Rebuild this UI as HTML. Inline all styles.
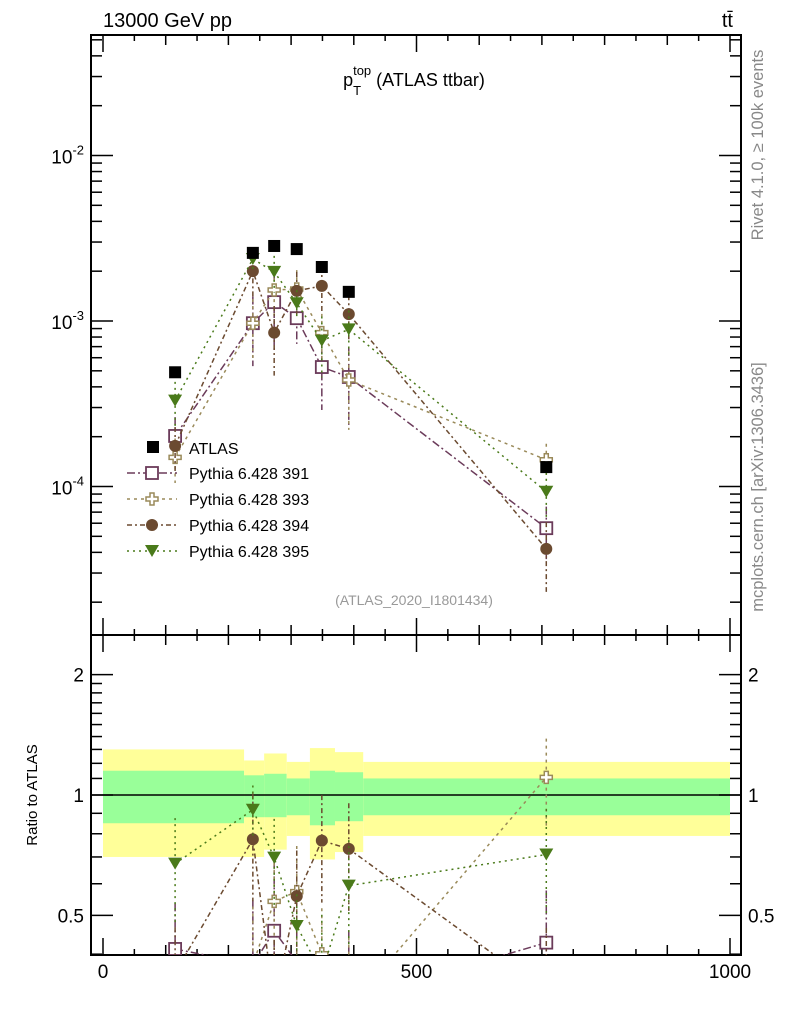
<!DOCTYPE html>
<html><head><meta charset="utf-8"><style>
html,body{margin:0;background:#fff;overflow:hidden;width:786px;height:1024px;}
svg{display:block;font-family:"Liberation Sans",sans-serif;}
</style></head><body>
<svg id="c" width="786" height="1024" viewBox="0 0 786 1024">
<text x="103" y="27" font-size="20">13000 GeV pp</text>
<text x="733" y="27" font-size="20" text-anchor="end">tt̄</text>
<text x="414" y="86" font-size="18" text-anchor="middle"><tspan>p</tspan><tspan dy="9" font-size="13">T</tspan><tspan dx="-8" dy="-20" font-size="13">top</tspan><tspan dy="11"> (ATLAS ttbar)</tspan></text>
<text transform="translate(763,145) rotate(-90)" font-size="16.5" fill="#888" text-anchor="middle">Rivet 4.1.0, ≥ 100k events</text>
<text transform="translate(763,487) rotate(-90)" font-size="16.5" fill="#888" text-anchor="middle">mcplots.cern.ch [arXiv:1306.3436]</text>
<text x="414" y="605" font-size="14" fill="#999" text-anchor="middle">(ATLAS_2020_I1801434)</text>
<text transform="translate(37,795) rotate(-90)" font-size="15" text-anchor="middle">Ratio to ATLAS</text>
<g id="bands"></g><g id="axes"></g><g id="marks"></g><g id="legend"></g>
</svg>
<script>
const binEdges=[0,225,257,293,330,370,415,1000];
const xCenters=[115,239,273,309,349,392,707];
const atlas=[0.49e-3,2.58e-3,2.84e-3,2.72e-3,2.12e-3,1.50e-3,1.31e-4];
const bandYellowUp=[1.30,1.22,1.27,1.21,1.31,1.28,1.21];
const bandYellowDn=[0.70,0.70,0.73,0.79,0.69,0.72,0.79];
const bandGreenUp=[1.15,1.12,1.13,1.10,1.15,1.14,1.10];
const bandGreenDn=[0.85,0.88,0.88,0.89,0.84,0.86,0.89];
const s391=[0.202e-3,0.97e-3,1.30e-3,1.04e-3,0.527e-3,0.459e-3,0.056e-3];
const s393=[0.15e-3,0.97e-3,1.54e-3,1.56e-3,0.85e-3,0.44e-3,0.145e-3];
const s394=[0.176e-3,2.0e-3,0.85e-3,1.52e-3,1.63e-3,1.10e-3,0.042e-3];
const s395=[0.33e-3,2.37e-3,1.98e-3,1.28e-3,0.76e-3,0.89e-3,0.093e-3];
const relErr391=[0.3,0.45,0.5,0.3,0.45,0.5,0.35];
const relErr393=[0.3,0.4,0.3,0.3,0.3,0.5,0.25];
const relErr394=[0.3,0.3,0.45,0.3,0.3,0.3,0.45];
const relErr395=[0.3,0.15,0.25,0.2,0.4,0.3,0.3];
const seriesNames=["Pythia 6.428 391","Pythia 6.428 393","Pythia 6.428 394","Pythia 6.428 395"];

const NS="http://www.w3.org/2000/svg";
const X0=91,X1=741,Y0=35,YM=635,Y1=955;
const xs=v=>103+v*0.627;
const ys=v=>321-165.5*Math.log10(v/1e-3);
const yr=r=>795-400*Math.log10(r);
function el(p,t,a){const e=document.createElementNS(NS,t);for(const k in a)e.setAttribute(k,a[k]);p.appendChild(e);return e;}
const bands=document.getElementById('bands'),axes=document.getElementById('axes'),marks=document.getElementById('marks'),leg=document.getElementById('legend');
const clip=el(document.querySelector('svg'),'clipPath',{id:'rc'});el(clip,'rect',{x:X0,y:YM,width:X1-X0,height:Y1-YM});
const clipM=el(document.querySelector('svg'),'clipPath',{id:'mc'});el(clipM,'rect',{x:X0,y:Y0,width:X1-X0,height:YM-Y0});

for(let i=0;i<xCenters.length;i++){
  const x=xs(binEdges[i]),w=xs(binEdges[i+1])-x;
  let r=el(bands,'rect',{x:x,y:yr(bandYellowUp[i]),width:w,height:yr(bandYellowDn[i])-yr(bandYellowUp[i]),fill:'#ffff99'});
  
  r=el(bands,'rect',{x:x,y:yr(bandGreenUp[i]),width:w,height:yr(bandGreenDn[i])-yr(bandGreenUp[i]),fill:'#99ff99'});
  
}
el(axes,'line',{x1:X0,x2:X1,y1:yr(1),y2:yr(1),stroke:'#000','stroke-width':1.5});
let f=el(axes,'rect',{x:X0,y:Y0,width:X1-X0,height:YM-Y0,fill:'none',stroke:'#000','stroke-width':2});

f=el(axes,'rect',{x:X0,y:YM,width:X1-X0,height:Y1-YM,fill:'none',stroke:'#000','stroke-width':2});

for(let v=0;v<=1000;v+=50){
  const L=v%500==0?17:(v%100==0?10:6),x=xs(v);
  for(const [ya,d] of [[Y0,1],[YM,-1],[YM,1],[Y1,-1]]) el(axes,'line',{x1:x,x2:x,y1:ya,y2:ya+d*L,stroke:'#000','stroke-width':1.5});
  if(v%500==0){const t=el(axes,'text',{x:x,y:978,'font-size':19,'text-anchor':'middle'});t.textContent=v;
    }
}
for(let e=-5;e<=-1;e++)for(let m=1;m<10;m++){
  const v=m*Math.pow(10,e),y=ys(v);if(y<Y0||y>YM)continue;
  const L=m==1?22:11;
  el(axes,'line',{x1:X0,x2:X0+L,y1:y,y2:y,stroke:'#000','stroke-width':1.5});
  el(axes,'line',{x1:X1,x2:X1-L,y1:y,y2:y,stroke:'#000','stroke-width':1.5});
  if(m==1){const t=el(axes,'text',{x:84,y:y+8,'font-size':19,'text-anchor':'end'});
    t.innerHTML='10<tspan dy="-9" font-size="13">'+e+'</tspan>';
    }
}
const rt=[0.4,0.5,0.6,0.7,0.8,0.9,1,2];
for(let v=1.1;v<2;v+=0.1)rt.push(v);
for(const v of rt){const y=yr(v),maj=[0.5,1,2].some(m=>Math.abs(m-v)<1e-6),L=maj?22:11;
  el(axes,'line',{x1:X0,x2:X0+L,y1:y,y2:y,stroke:'#000','stroke-width':1.5});
  el(axes,'line',{x1:X1,x2:X1-L,y1:y,y2:y,stroke:'#000','stroke-width':1.5});
  if(maj){for(const [xx,a] of [[84,'end'],[748,'start']]){const t=el(axes,'text',{x:xx,y:y+7,'font-size':19,'text-anchor':a});t.textContent=v;
    }}
}
const series=[
 {v:s391,e:relErr391,c:'#6b3b5a',m:'sq',d:'8,3,2,3'},
 {v:s393,e:relErr393,c:'#9a8a5a',m:'cross',d:'3,4'},
 {v:s394,e:relErr394,c:'#6b4a30',m:'circ',d:'5,3,2,3'},
 {v:s395,e:relErr395,c:'#4a7a1a',m:'tri',d:'2,4'}];
function marker(g,m,x,y,c){
  let e;
  if(m=='sq')e=el(g,'rect',{x:x-6,y:y-6,width:12,height:12,fill:'#fff',stroke:c,'stroke-width':1.8});
  else if(m=='cross')e=el(g,'path',{d:`M${x-2},${y-6}h4v4h4v4h-4v4h-4v-4h-4v-4h4z`,fill:'#fff',stroke:c,'stroke-width':1.5});
  else if(m=='circ')e=el(g,'circle',{cx:x,cy:y,r:6,fill:c});
  else if(m=='tri')e=el(g,'path',{d:`M${x-7},${y-6}h14l-7,12z`,fill:c});
  else e=el(g,'rect',{x:x-6,y:y-6,width:12,height:12,fill:'#000'});
  return e;
}
series.forEach((s,k)=>{
  const g=el(marks,'g',{'clip-path':'url(#mc)'});
  const gr=el(marks,'g',{'clip-path':'url(#rc)'});
  el(g,'polyline',{points:s.v.map((v,i)=>xs(xCenters[i])+','+ys(v)).join(' '),fill:'none',stroke:s.c,'stroke-width':1.5,'stroke-dasharray':s.d});
  el(gr,'polyline',{points:s.v.map((v,i)=>xs(xCenters[i])+','+yr(v/atlas[i])).join(' '),fill:'none',stroke:s.c,'stroke-width':1.5,'stroke-dasharray':s.d});
  s.v.forEach((v,i)=>{const x=xs(xCenters[i]);
    el(g,'line',{x1:x,x2:x,y1:ys(v*(1+s.e[i])),y2:ys(v*Math.max(0.05,1-s.e[i])),stroke:s.c,'stroke-width':1.5,'stroke-dasharray':s.d});
    const r=v/atlas[i];
    el(gr,'line',{x1:x,x2:x,y1:yr(r*(1+s.e[i])),y2:yr(r*Math.max(0.05,1-s.e[i])),stroke:s.c,'stroke-width':1.5,'stroke-dasharray':s.d});
    const mk=marker(g,s.m,x,ys(v),s.c);
    const mr=marker(gr,s.m,x,yr(r),s.c);
  });
});
atlas.forEach((v,i)=>{const mk=marker(marks,'data',xs(xCenters[i]),ys(v),'#000');
  });
const lyA=447;
let lm=marker(leg,'data',153,lyA,'#000');
let lt=el(leg,'text',{x:189,y:lyA+7,'font-size':16});lt.textContent='ATLAS';
series.forEach((s,k)=>{const y=lyA+26+k*26;
  el(leg,'line',{x1:127,x2:177,y1:y,y2:y,stroke:s.c,'stroke-width':1.5,'stroke-dasharray':s.d});
  const m=marker(leg,s.m,152,y,s.c);
  const t=el(leg,'text',{x:189,y:y+6,'font-size':16});t.textContent=seriesNames[k];
  
});
</script>
</body></html>
